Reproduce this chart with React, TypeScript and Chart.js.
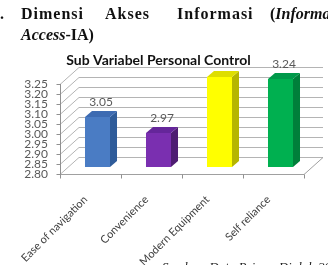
import React, { useEffect, useRef } from 'react';
import { Chart, registerables } from 'chart.js';

Chart.register(...registerables);

const categories = ['Ease of navigation', 'Convenience', 'Modern Equipment', 'Self reliance'];
const values = [3.05, 2.97, 3.25, 3.24];
const frontColors = ['#4a7cc4', '#7a2fb0', '#ffff00', '#00b050'];
const sideColors = ['#2f5c9a', '#4e1d72', '#b5b500', '#007f3a'];
const topColors = ['#3d6bb2', '#65269a', '#dede00', '#00994a'];
const yTickValues = [2.8, 2.85, 2.9, 2.95, 3.0, 3.05, 3.1, 3.15, 3.2, 3.25];
const chartTitle = 'Sub Variabel Personal Control';

// pseudo-3D offsets (relative to the bar plane)
const FRONT = { dx: -7, dy: 7 };
const BACK = { dx: 12, dy: -10 };
const DEPTH = { dx: 7, dy: -6 };

const threeDPlugin = {
  id: 'threeD',
  beforeDatasetsDraw(chart: any) {
    const { ctx, chartArea: a, scales } = chart;
    const ys = scales.y;
    const xs = scales.x;
    ctx.save();
    ctx.lineWidth = 1;
    ctx.strokeStyle = '#b4b4b4';
    ys.ticks.forEach((t: any) => {
      const py = Math.round(ys.getPixelForValue(t.value)) + 0.5;
      ctx.beginPath();
      ctx.moveTo(a.left + FRONT.dx, py + FRONT.dy);
      ctx.lineTo(a.left + BACK.dx, py + BACK.dy);
      ctx.lineTo(a.right + BACK.dx, py + BACK.dy);
      ctx.stroke();
    });
    const by = Math.round(a.bottom) + 0.5;
    ctx.strokeStyle = '#a0a0a0';
    ctx.beginPath();
    ctx.moveTo(a.left + FRONT.dx, by + FRONT.dy);
    ctx.lineTo(a.right + FRONT.dx, by + FRONT.dy);
    ctx.lineTo(a.right + BACK.dx, by + BACK.dy);
    ctx.stroke();
    const ax = Math.round(a.left + FRONT.dx) + 0.5;
    ctx.strokeStyle = '#909090';
    ctx.beginPath();
    ctx.moveTo(ax, Math.round(a.top) + FRONT.dy);
    ctx.lineTo(ax, by + FRONT.dy);
    ctx.stroke();
    ys.ticks.forEach((t: any) => {
      const py = Math.round(ys.getPixelForValue(t.value)) + 0.5 + FRONT.dy;
      ctx.beginPath();
      ctx.moveTo(ax - 4, py);
      ctx.lineTo(ax, py);
      ctx.stroke();
    });
    const n = categories.length;
    const bounds: number[] = [a.left];
    for (let i = 1; i < n; i++) bounds.push((xs.getPixelForValue(i - 1) + xs.getPixelForValue(i)) / 2);
    bounds.push(a.right);
    bounds.forEach((bx) => {
      const px = Math.round(bx + FRONT.dx) + 0.5;
      ctx.beginPath();
      ctx.moveTo(px, by + FRONT.dy);
      ctx.lineTo(px, by + FRONT.dy + 4);
      ctx.stroke();
    });
    ctx.restore();
  },
  afterDatasetsDraw(chart: any) {
    const { ctx, chartArea: a } = chart;
    const meta = chart.getDatasetMeta(0);
    ctx.save();
    meta.data.forEach((bar: any, i: number) => {
      const { x, y, width } = bar.getProps(['x', 'y', 'width'], true);
      const base = a.bottom;
      const l = x - width / 2;
      const r = x + width / 2;
      ctx.fillStyle = sideColors[i];
      ctx.beginPath();
      ctx.moveTo(r, y);
      ctx.lineTo(r + DEPTH.dx, y + DEPTH.dy);
      ctx.lineTo(r + DEPTH.dx, base + DEPTH.dy);
      ctx.lineTo(r, base);
      ctx.closePath();
      ctx.fill();
      ctx.fillStyle = topColors[i];
      ctx.beginPath();
      ctx.moveTo(l, y);
      ctx.lineTo(r, y);
      ctx.lineTo(r + DEPTH.dx, y + DEPTH.dy);
      ctx.lineTo(l + DEPTH.dx, y + DEPTH.dy);
      ctx.closePath();
      ctx.fill();
      ctx.fillStyle = '#595959';
      ctx.font = '12px Lato';
      ctx.textAlign = 'center';
      ctx.textBaseline = 'alphabetic';
      ctx.fillText(values[i].toFixed(2), x + DEPTH.dx / 2, y + DEPTH.dy - 5);
    });
    ctx.restore();
  },
  afterDraw(chart: any) {
    const { ctx } = chart;
    ctx.save();
    ctx.font = 'bold 14px Lato';
    const w = ctx.measureText(chartTitle).width;
    const cx = 158.5;
    ctx.fillStyle = '#ffffff';
    ctx.fillRect(cx - w / 2 - 2, 52, w + 4, 14);
    ctx.fillStyle = '#111111';
    ctx.textAlign = 'center';
    ctx.textBaseline = 'alphabetic';
    ctx.fillText(chartTitle, cx, 64.5);
    ctx.restore();
  },
};

const serif = '"Liberation Serif", "Times New Roman", serif';

export default function App() {
  const canvasRef = useRef<HTMLCanvasElement | null>(null);

  useEffect(() => {
    if (!canvasRef.current) return;
    const chart = new Chart(canvasRef.current, {
      type: 'bar',
      data: {
        labels: categories,
        datasets: [
          {
            data: values,
            backgroundColor: frontColors,
            borderWidth: 0,
            barPercentage: 0.41,
            categoryPercentage: 1,
          },
        ],
      },
      options: {
        responsive: false,
        animation: false,
        devicePixelRatio: 1,
        layout: { padding: { top: 77, right: 17, left: 0, bottom: 0 } },
        plugins: {
          legend: { display: false },
          title: { display: false },
          tooltip: { enabled: false },
        },
        scales: {
          x: {
            afterFit: (s: any) => {
              s.height = 98;
            },
            grid: { display: false, drawTicks: false },
            border: { display: false },
            ticks: {
              autoSkip: false,
              maxRotation: 45,
              minRotation: 45,
              padding: 26,
              labelOffset: -12,
              color: '#404040',
              font: { family: 'Lato', size: 11 },
            },
          },
          y: {
            min: 2.8,
            max: 3.25,
            afterBuildTicks: (s: any) => {
              s.ticks = yTickValues.map((v) => ({ value: v }));
            },
            afterFit: (s: any) => {
              s.width = 67;
            },
            grid: { display: false, drawTicks: false },
            border: { display: false },
            ticks: {
              autoSkip: false,
              padding: 19,
              labelOffset: 7,
              color: '#595959',
              font: { family: 'Lato', size: 12 },
              callback: (v: any) => Number(v).toFixed(2),
            },
          },
        },
      },
      plugins: [threeDPlugin],
    });
    return () => chart.destroy();
  }, []);

  const hdr: React.CSSProperties = {
    position: 'absolute',
    font: `bold 16px ${serif}`,
    lineHeight: '16px',
    color: '#111',
    whiteSpace: 'nowrap',
    letterSpacing: '1px',
  };

  return (
    <div
      style={{
        position: 'fixed',
        left: 0,
        top: 0,
        width: 328,
        height: 265,
        overflow: 'hidden',
        background: '#fff',
      }}
    >
      <canvas
        ref={canvasRef}
        width={328}
        height={265}
        style={{ position: 'absolute', left: 0, top: 0, width: 328, height: 265 }}
      />
      <span style={{ ...hdr, left: -9, top: 5.6 }}>2.</span>
      <span style={{ ...hdr, left: 21, top: 5.6 }}>Dimensi</span>
      <span style={{ ...hdr, left: 105, top: 5.6 }}>Akses</span>
      <span style={{ ...hdr, left: 177, top: 5.6 }}>Informasi</span>
      <span style={{ ...hdr, left: 270, top: 5.6, letterSpacing: '0px' }}>
        (<i>Information</i>
      </span>
      <span style={{ ...hdr, left: 21, top: 26.6, letterSpacing: '0px' }}>
        <i>Access</i>-IA)
      </span>
      <span
        style={{
          position: 'absolute',
          left: 162,
          top: 259.7,
          font: `italic 13px ${serif}`,
          lineHeight: '13px',
          color: '#222',
          whiteSpace: 'nowrap',
        }}
      >
        Sumber: Data Primer Diolah 2016
      </span>
    </div>
  );
}
